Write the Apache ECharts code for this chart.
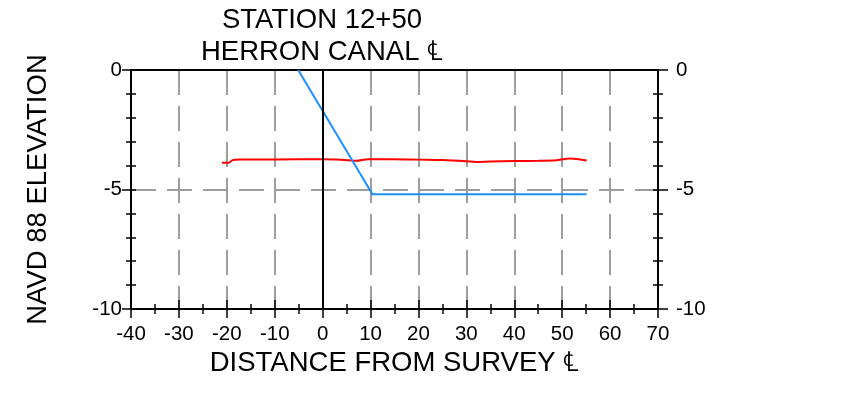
<!DOCTYPE html>
<html>
<head>
<meta charset="utf-8">
<script src="https://cdn.jsdelivr.net/npm/echarts@6/dist/echarts.min.js"></script>
<style>html,body{margin:0;padding:0;background:#fff;}#c{width:846px;height:400px;}</style>
</head>
<body>
<div id="c"></div>
<script>
const titleLines = ['STATION 12+50', 'HERRON CANAL \u2104'];
const xName = 'DISTANCE FROM SURVEY \u2104';
const yName = 'NAVD 88 ELEVATION';
const xMin = -40, xMax = 70, xStep = 10;
const yMin = -10, yMax = 0, yStep = 5;
const centerLineX = 0;
const groundX = [-21.0, -19.6, -18.8, -17.5, -10, 0, 3, 5.5, 7, 9.5, 15, 20, 25, 30, 32, 35, 40, 45, 48.8, 50.5, 51.6, 53, 55.1];
const groundY = [-3.88, -3.88, -3.77, -3.74, -3.74, -3.73, -3.74, -3.78, -3.80, -3.73, -3.73, -3.75, -3.77, -3.82, -3.85, -3.83, -3.81, -3.80, -3.78, -3.72, -3.70, -3.72, -3.79];
const designX = [-5.1, 10.4, 55.1];
const designY = [0, -5.2, -5.2];

const FONT = 'Liberation Sans, Arial, sans-serif';
const zip = (a, b) => a.map((v, i) => [v, b[i]]);
const black = {lineStyle: {color: '#000', width: 2}};

const chart = echarts.init(document.getElementById('c'), null, {renderer: 'canvas'});
chart.setOption({
  animation: false,
  backgroundColor: '#fff',
  title: {
    text: titleLines.join('\n'),
    left: 317, top: 0, textAlign: 'center',
    textStyle: {fontFamily: FONT, fontSize: 27.5, fontWeight: 'normal', color: '#000', lineHeight: 31.5}
  },
  grid: {left: 131, right: 188, top: 70, height: 239, containLabel: false},
  xAxis: [
    {type: 'value', position: 'bottom', min: xMin, max: xMax, interval: xStep,
     name: xName, nameLocation: 'middle', nameGap: 40,
     nameTextStyle: {fontFamily: FONT, fontSize: 27.5, color: '#000'},
     axisLine: {show: true, onZero: false, ...black},
     axisTick: {show: true, length: 9, lineStyle: {color: '#000', width: 1.5}},
     minorTick: {show: true, splitNumber: 2, length: 5, lineStyle: {color: '#000', width: 1.5}},
     axisLabel: {fontFamily: FONT, fontSize: 20.5, color: '#000', margin: 15},
     splitLine: {show: true, lineStyle: {color: '#9d9d9d', width: 2, type: [25, 11]}}
    },
    {type: 'value', position: 'bottom', min: xMin, max: xMax, interval: xStep,
     axisLine: {show: false, onZero: false},
     axisTick: {show: true, inside: true, length: 9, lineStyle: {color: '#000', width: 1.5}},
     minorTick: {show: true, splitNumber: 2, length: 5, lineStyle: {color: '#000', width: 1.5}},
     axisLabel: {show: false}, splitLine: {show: false}
    },
    {type: 'value', position: 'top', min: xMin, max: xMax, interval: xStep,
     axisLine: {show: true, onZero: false, ...black},
     axisTick: {show: false}, axisLabel: {show: false}, splitLine: {show: false}
    }
  ],
  yAxis: [
    {type: 'value', position: 'left', min: yMin, max: yMax, interval: yStep,
     name: yName, nameLocation: 'middle', nameGap: 79, nameRotate: 90,
     nameTextStyle: {fontFamily: FONT, fontSize: 27.5, color: '#000'},
     axisLine: {show: true, onZero: false, ...black},
     axisTick: {show: true, length: 9, lineStyle: {color: '#000', width: 1.5}},
     minorTick: {show: true, splitNumber: 5, length: 5, lineStyle: {color: '#000', width: 1.5}},
     axisLabel: {fontFamily: FONT, fontSize: 20.5, color: '#000', margin: 9},
     splitLine: {show: true, lineStyle: {color: '#9d9d9d', width: 2, type: [25, 11]}}
    },
    {type: 'value', position: 'left', min: yMin, max: yMax, interval: yStep,
     axisLine: {show: false, onZero: false},
     axisTick: {show: true, inside: true, length: 5, lineStyle: {color: '#000', width: 1.5}},
     minorTick: {show: true, splitNumber: 5, length: 5, lineStyle: {color: '#000', width: 1.5}},
     axisLabel: {show: false}, splitLine: {show: false}
    },
    {type: 'value', position: 'right', min: yMin, max: yMax, interval: yStep,
     axisLine: {show: true, onZero: false, ...black},
     axisTick: {show: true, length: 10, lineStyle: {color: '#000', width: 1.5}},
     minorTick: {show: true, splitNumber: 5, length: 5, lineStyle: {color: '#000', width: 1.5}},
     axisLabel: {fontFamily: FONT, fontSize: 20.5, color: '#000', margin: 18},
     splitLine: {show: false}
    },
    {type: 'value', position: 'right', min: yMin, max: yMax, interval: yStep,
     axisLine: {show: false, onZero: false},
     axisTick: {show: true, inside: true, length: 5, lineStyle: {color: '#000', width: 1.5}},
     minorTick: {show: true, splitNumber: 5, length: 5, lineStyle: {color: '#000', width: 1.5}},
     axisLabel: {show: false}, splitLine: {show: false}
    }
  ],
  series: [
    {type: 'line', name: 'ground', xAxisIndex: 0, yAxisIndex: 0,
     data: zip(groundX, groundY), showSymbol: false, symbol: 'none', smooth: 0.3,
     lineStyle: {color: '#ff0000', width: 2}, z: 3,
     markLine: {silent: true, symbol: 'none', label: {show: false},
       lineStyle: {color: '#000', width: 2, type: 'solid'},
       data: [{xAxis: centerLineX}]}
    },
    {type: 'line', name: 'design', xAxisIndex: 0, yAxisIndex: 0,
     data: zip(designX, designY), showSymbol: false, symbol: 'none',
     lineStyle: {color: '#1e8fff', width: 2}, z: 4}
  ]
});
</script>
</body>
</html>
